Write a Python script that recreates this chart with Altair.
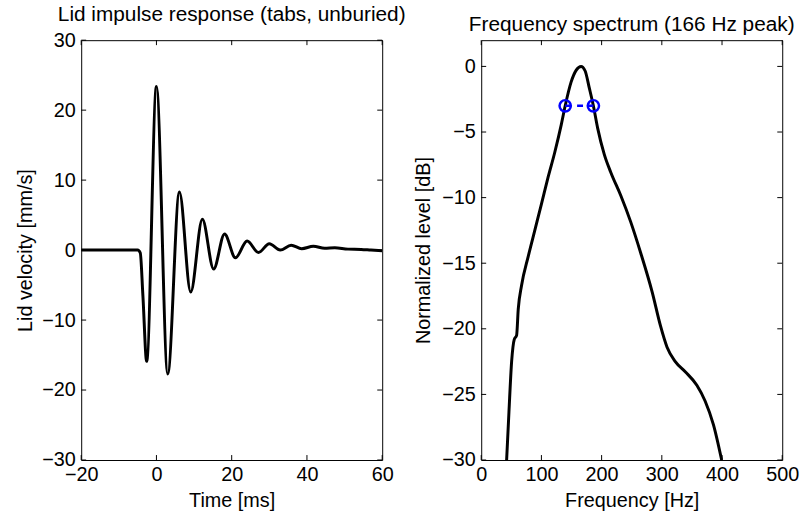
import altair as alt
import pandas as pd

# ---- data ----
t_ms = [-20, -10, -5.0, -4.3, -3.6, -2.6, 0.0, 3.0, 6.1, 9.1, 12.2, 15.2, 18.1, 21.0,
        24.1, 27.1, 30.0, 32.9, 35.8, 38.6, 41.7, 44.7, 47.4, 50.9, 54.4, 57.0, 60.0]
velocity = [0, 0, 0, -0.4, -6.5, -15.9, 23.4, -17.7, 8.3, -6.0, 4.4, -2.7, 2.3, -1.1,
            1.3, -0.35, 0.9, 0.0, 0.7, 0.2, 0.55, 0.25, 0.33, 0.14, 0.1, 0.0, -0.1]

freq_hz = [42.2, 46.1, 50.5, 54.9, 58.8, 61.5, 67, 78, 89, 100, 111, 122, 133, 139.5,
           149.4, 157.6, 165.9, 172.5, 179.7, 186.3, 193.4, 204.4, 215.3, 231.8, 248.3,
           264.8, 284, 297.7, 308.7, 322.4, 338.9, 358.2, 371.9, 385.7, 399.4]
level_db = [-30, -26.3, -22.5, -20.8, -20.5, -18.5, -16.7, -14.5, -12.5, -10.5, -8.46,
            -6.58, -4.44, -3.0, -1.18, -0.3, 0.0, -0.33, -1.68, -3.0, -4.7, -6.7, -8.08,
            -9.84, -11.85, -14.2, -17.2, -19.76, -21.4, -22.5, -23.27, -24.3, -25.5,
            -27.3, -30]

half_power_hz = [139.5, 186.3]
half_power_db = [-3.0, -3.0]

left_xticks = [-20, 0, 20, 40, 60]
left_yticks = [-30, -20, -10, 0, 10, 20, 30]
right_xticks = [0, 100, 200, 300, 400, 500]
right_yticks = [-30, -25, -20, -15, -10, -5, 0]

FONT = "Liberation Sans"
W, H = 304, 424
TL = 5
FS = 20
TFS = 21


def axis(values, title, **kw):
    return alt.Axis(values=values, title=title, ticks=False, tickSize=0, domain=False,
                    grid=False, labelFont=FONT, titleFont=FONT, labelFontSize=FS,
                    titleFontSize=FS, labelColor="black", titleColor="black",
                    titleFontWeight="normal", labelFlush=False, labelOverlap=False,
                    **kw)


def inner_ticks(xticks, yticks, xscale, yscale, xaxis, yaxis):
    dx = pd.DataFrame({"v": xticks})
    dy = pd.DataFrame({"v": yticks})
    x = alt.X("v:Q", scale=xscale, axis=xaxis)
    y = alt.Y("v:Q", scale=yscale, axis=yaxis)
    bottom = alt.Chart(dx).mark_rule(color="black", strokeWidth=1).encode(
        x=x, y=alt.value(H), y2=alt.value(H - TL))
    top = alt.Chart(dx).mark_rule(color="black", strokeWidth=1).encode(
        x=x, y=alt.value(0), y2=alt.value(TL))
    left = alt.Chart(dy).mark_rule(color="black", strokeWidth=1).encode(
        y=y, x=alt.value(0), x2=alt.value(TL))
    right = alt.Chart(dy).mark_rule(color="black", strokeWidth=1).encode(
        y=y, x=alt.value(W), x2=alt.value(W - TL))
    return [bottom, top, left, right]


def title(text):
    return alt.TitleParams(text, font=FONT, fontSize=TFS, fontWeight="normal",
                           color="black", offset=5, anchor="middle")


# ---- left panel ----
lx = alt.Scale(domain=[-20, 60], nice=False, zero=False)
ly = alt.Scale(domain=[-30, 30], nice=False, zero=False)
lxa = axis(left_xticks, "Time [ms]", labelPadding=5, titlePadding=6)
lya = axis(left_yticks, "Lid velocity [mm/s]", labelPadding=6, titlePadding=6)
left_df = pd.DataFrame({"t": t_ms, "v": velocity})
left_line = alt.Chart(left_df).mark_line(
    color="black", strokeWidth=3, interpolate="monotone", clip=True).encode(
    x=alt.X("t:Q", scale=lx, axis=lxa),
    y=alt.Y("v:Q", scale=ly, axis=lya),
)
left = alt.layer(left_line, *inner_ticks(left_xticks, left_yticks, lx, ly, lxa, lya)).properties(
    width=W, height=H, title=title("Lid impulse response (tabs, unburied)"))

# ---- right panel ----
rx = alt.Scale(domain=[0, 500], nice=False, zero=False)
ry = alt.Scale(domain=[-30, 2], nice=False, zero=False)
rxa = axis(right_xticks, "Frequency [Hz]", labelPadding=5, titlePadding=6)
rya = axis(right_yticks, "Normalized level [dB]", labelPadding=6, titlePadding=8)
right_df = pd.DataFrame({"f": freq_hz, "db": level_db})
hp_df = pd.DataFrame({"f": half_power_hz, "db": half_power_db})
right_line = alt.Chart(right_df).mark_line(
    color="black", strokeWidth=3, interpolate="monotone", clip=True).encode(
    x=alt.X("f:Q", scale=rx, axis=rxa),
    y=alt.Y("db:Q", scale=ry, axis=rya),
)
hp_line = alt.Chart(hp_df).mark_line(color="#0000ff", strokeWidth=2.5, strokeDash=[6, 6]).encode(
    x=alt.X("f:Q", scale=rx, axis=rxa), y=alt.Y("db:Q", scale=ry, axis=rya))
hp_pts = alt.Chart(hp_df).mark_point(shape="circle", filled=False, size=130, strokeWidth=2.5,
                                     color="#0000ff", opacity=1).encode(
    x=alt.X("f:Q", scale=rx, axis=rxa), y=alt.Y("db:Q", scale=ry, axis=rya))
right = alt.layer(right_line, hp_line, hp_pts,
                  *inner_ticks(right_xticks, right_yticks, rx, ry, rxa, rya)).properties(
    width=W, height=H, title=title("Frequency spectrum (166 Hz peak)"))

chart = alt.hconcat(left, right, spacing=100, bounds="flush").properties(
    padding={"left": 15, "top": 1, "right": 5, "bottom": 5},
    background="white",
).configure_view(stroke="black", strokeWidth=1)

chart.save("out.html", embed_options={"renderer": "svg", "actions": False})
